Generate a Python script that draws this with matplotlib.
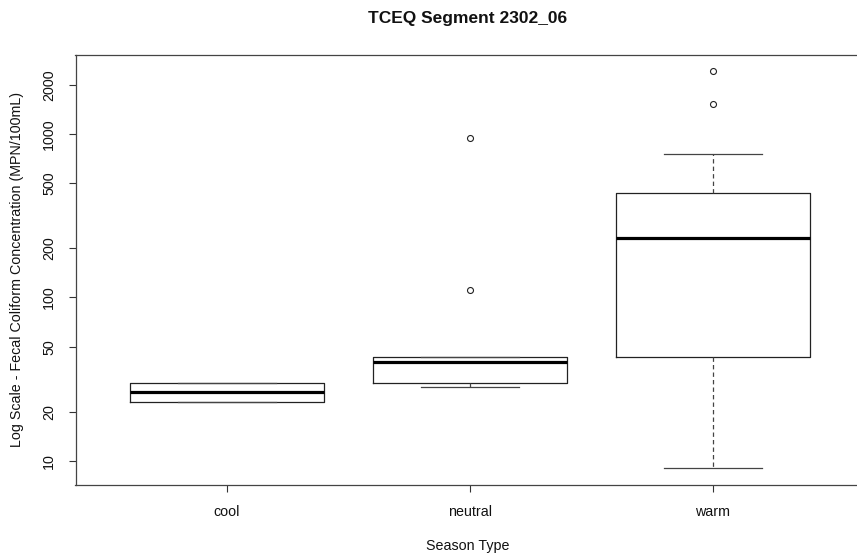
import matplotlib
matplotlib.use("Agg")
import matplotlib.pyplot as plt
from matplotlib.ticker import FixedLocator, FixedFormatter, NullLocator

plt.rcParams['font.family'] = ['Liberation Sans', 'DejaVu Sans']

# Season groups and their box-plot summaries (MPN/100mL)
seasons = ['cool', 'neutral', 'warm']
whisker_low = [23.0, 28.2, 9.0]
q1 = [23.0, 29.9, 43.4]
medians = [26.5, 40.3, 232.0]
q3 = [29.9, 43.4, 434.0]
whisker_high = [29.9, 43.4, 755.0]
outliers = [[], [111.0, 941.0], [1525.0, 2438.0]]

y_ticks = [10, 20, 50, 100, 200, 500, 1000, 2000]
y_tick_labels = ['10', '20', '50', '100', '200', '500', '1000', '2000']

W, H = 857, 554
fig = plt.figure(figsize=(W / 100, H / 100), dpi=100)
left, right, top, bottom = 75.5, 860.0, 54.7, 484.5
ax = fig.add_axes([left / W, 1 - bottom / H, (right - left) / W, (bottom - top) / H])

stats = []
for i, name in enumerate(seasons):
    stats.append(dict(label=name, whislo=whisker_low[i], q1=q1[i], med=medians[i],
                      q3=q3[i], whishi=whisker_high[i], fliers=outliers[i]))

positions = list(range(1, len(seasons) + 1))
line_col = '#222222'
ax.bxp(stats, positions=positions, widths=0.8, showfliers=True,
       boxprops=dict(color=line_col, linewidth=0.9),
       medianprops=dict(color='black', linewidth=2.3, solid_capstyle='butt'),
       whiskerprops=dict(color='#444444', linewidth=0.9, linestyle=(0, (3.5, 2.5))),
       capprops=dict(color='#444444', linewidth=0.9),
       flierprops=dict(marker='o', markersize=4.3, markerfacecolor='none',
                       markeredgecolor='#222222', markeredgewidth=0.8))

ax.set_yscale('log')
ax.set_ylim(7.18, 3055)
ax.set_xlim(0.3765, 3.605)

ax.yaxis.set_major_locator(FixedLocator(y_ticks))
ax.yaxis.set_major_formatter(FixedFormatter(y_tick_labels))
ax.yaxis.set_minor_locator(NullLocator())
for lbl in ax.get_yticklabels():
    lbl.set_rotation(90)
    lbl.set_va('center')
ax.set_xticks(positions)
ax.set_xticklabels(seasons)

ax.tick_params(axis='both', direction='out', length=5, width=0.8, color='#333333',
               labelsize=10.3, labelcolor='#111111')
ax.tick_params(axis='y', pad=9.0)
ax.tick_params(axis='x', pad=9.5)

ax.spines['right'].set_visible(False)
for side in ['left', 'bottom', 'top']:
    ax.spines[side].set_color('#444444')
    ax.spines[side].set_linewidth(0.9)

fig.text((left + right) / 2 / W, 1 - 18 / H, 'TCEQ Segment 2302_06', ha='center', va='center',
         fontsize=12.5, fontweight='bold', color='#111111')
fig.text((left + right) / 2 / W, 1 - 546 / H, 'Season Type', ha='center', va='center',
         fontsize=10.3, color='#111111')
fig.text(17 / W, 1 - (top + bottom) / 2 / H,
         'Log Scale - Fecal Coliform Concentration (MPN/100mL)', ha='center', va='center',
         rotation=90, fontsize=10.3, color='#111111')

fig.savefig('out.png', dpi=100)
